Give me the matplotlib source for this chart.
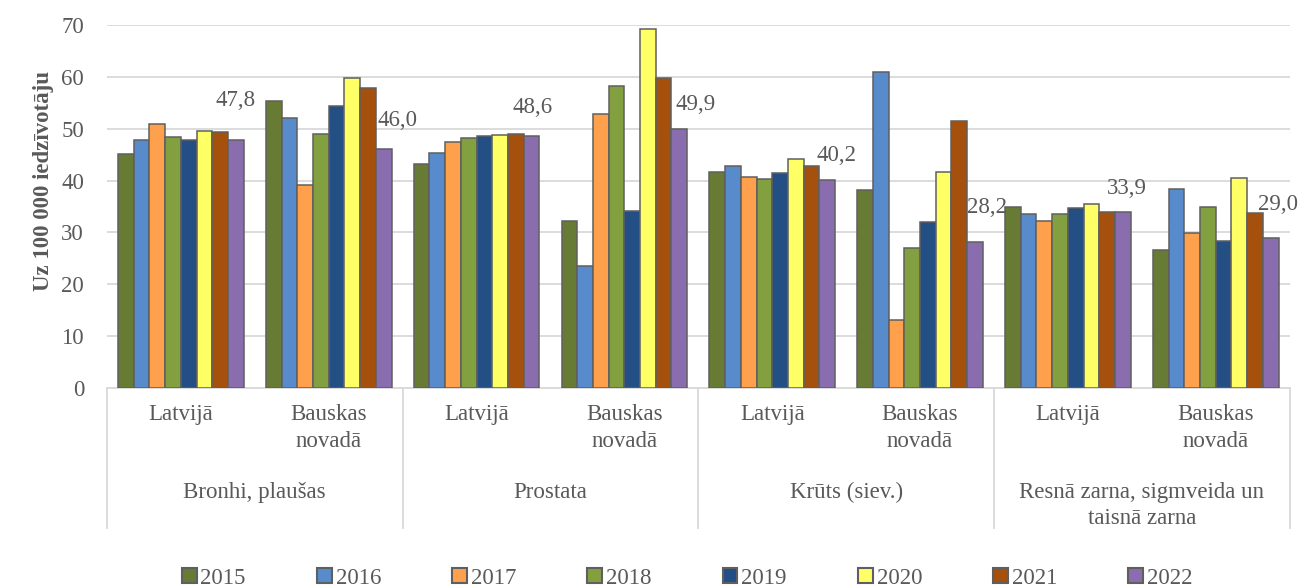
#%% libraries
import numpy as np
import matplotlib
matplotlib.use('Agg')
import matplotlib.pyplot as plt
from matplotlib.patches import Patch

#%% data
years = ['2015', '2016', '2017', '2018', '2019', '2020', '2021', '2022']
places = ['Latvijā', 'Bauskas\nnovadā'] * 4
sites = ['Bronhi, plaušas', 'Prostata', 'Krūts (siev.)',
         'Resnā zarna, sigmveida un\ntaisnā zarna']

# one list per year, columns = subgroup (Latvijā / Bauskas novadā per site)
v2015 = [45.2, 55.3, 43.2, 32.2, 41.7, 38.2, 34.9, 26.6]
v2016 = [47.9, 52.0, 45.3, 23.6, 42.9, 61.0, 33.6, 38.4]
v2017 = [50.9, 39.1, 47.4, 52.8, 40.7, 13.2, 32.3, 29.9]
v2018 = [48.4, 49.0, 48.2, 58.2, 40.3, 27.0, 33.6, 34.9]
v2019 = [47.8, 54.3, 48.6, 34.2, 41.4, 32.0, 34.7, 28.3]
v2020 = [49.6, 59.7, 48.7, 69.2, 44.1, 41.6, 35.4, 40.5]
v2021 = [49.4, 57.9, 49.0, 59.8, 42.9, 51.5, 34.0, 33.7]
v2022 = [47.8, 46.0, 48.6, 49.9, 40.2, 28.2, 33.9, 29.0]
values = [v2015, v2016, v2017, v2018, v2019, v2020, v2021, v2022]

colors = ['#687b34', '#588bcb', '#ffa04d', '#82a040',
          '#244f85', '#ffff66', '#a5500c', '#8a6dae']

# offsets (points) of the 2022 value labels, moved by hand in the original
lbl_off = [(0, 28.5), (10, 21), (1, 20.5), (11.5, 17.8),
           (6.5, 17), (8.6, 24.7), (3, 17.4), (5.5, 23.8)]

#%% plot
plt.rcParams['font.family'] = ['Liberation Serif', 'DejaVu Serif']
txt_col = '#595959'
fs = 16.5

fig = plt.figure(figsize=(13.04, 5.88), dpi=100)
ax = fig.add_axes([0.082, 0.340, 0.907, 0.6175])

x = np.arange(len(places))
n = len(years)
w = 0.85 / n
for i, (yr, vals, c) in enumerate(zip(years, values, colors)):
    ax.bar(x - 0.425 + w * (i + 0.5), vals, w, color=c, edgecolor='#5f5f5f',
           linewidth=1.1, label=yr, zorder=3)

# value labels for 2022
for j, v in enumerate(v2022):
    xb = j - 0.425 + w * 7.5
    ax.annotate(('%.1f' % v).replace('.', ','), xy=(xb, v), xytext=lbl_off[j],
                textcoords='offset points', ha='center', va='center',
                fontsize=fs, color=txt_col, zorder=4, annotation_clip=False)

ax.set_xlim(-0.5, 7.5)
ax.set_ylim(0, 70)
ax.set_yticks(range(0, 71, 10))
ax.yaxis.grid(True, color='#d9d9d9', linewidth=1.3, zorder=0)
ax.tick_params(axis='y', length=0, labelsize=fs, labelcolor=txt_col, pad=16.5)
ax.set_xticks([])
for s in ['top', 'right', 'left']:
    ax.spines[s].set_visible(False)
ax.spines['bottom'].set_color('#d9d9d9')
ax.spines['bottom'].set_linewidth(1.3)

ax.set_ylabel('Uz 100 000 iedzīvotāju', fontsize=fs, fontweight='bold',
              color=txt_col)
ax.yaxis.set_label_coords(-0.045, 0.569)

# two-level category axis
trans = ax.get_xaxis_transform()
for j, p in enumerate(places):
    ax.text(j, -0.045, p, transform=trans, ha='center', va='top',
            fontsize=fs, color=txt_col, linespacing=1.35)
for k, s in enumerate(sites):
    ax.text(2 * k + 0.5, -0.258, s, transform=trans, ha='center', va='top',
            fontsize=fs, color=txt_col, linespacing=1.35)
for b in np.arange(-0.5, 7.6, 2):
    ax.plot([b, b], [0, -0.385], transform=trans, color='#d9d9d9',
            linewidth=1.3, clip_on=False)

handles = [Patch(facecolor=c, edgecolor='#5f5f5f', linewidth=1.5, label=yr)
           for yr, c in zip(years, colors)]
fig.legend(handles=handles, loc='center', bbox_to_anchor=(0.527, 0.017),
           ncol=8, frameon=False, fontsize=fs, handlelength=0.65,
           handleheight=0.65, handletextpad=0.17, columnspacing=3.1,
           borderpad=0, labelcolor=txt_col)

fig.savefig('out.png', dpi=100)
